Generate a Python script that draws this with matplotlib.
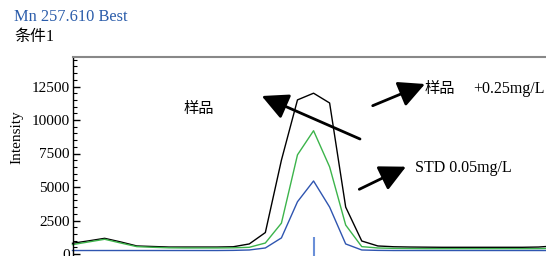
import matplotlib
matplotlib.use("Agg")
import matplotlib.pyplot as plt
import numpy as np

# ---- data ----
idx = list(range(31))
sample_plus = [800, 980, 1170, 900, 600, 560, 520, 520, 520, 520, 540, 750, 1600, 7000, 11500, 12000, 11270,
               3500, 970, 600, 540, 520, 510, 500, 500, 500, 500, 500, 500, 520, 600]
sample = [700, 900, 1100, 820, 550, 500, 460, 450, 450, 450, 460, 500, 820, 2300, 7400, 9200, 6500,
          2160, 550, 450, 420, 410, 400, 400, 400, 400, 400, 400, 400, 400, 420]
std = [260, 260, 260, 260, 260, 260, 260, 260, 260, 260, 270, 300, 450, 1200, 3900, 5450, 3500,
       750, 300, 270, 260, 260, 260, 260, 260, 260, 260, 260, 260, 260, 260]
peak_pos = 15
peak_marker = [-600, 1250]
yticks = [0, 2500, 5000, 7500, 10000, 12500]

title = "Mn 257.610 Best"
subtitle = "条件1"
ylabel = "Intensity"

W, H = 546, 256
fig = plt.figure(figsize=(W / 100, H / 100), dpi=100)

# axes geometry in pixels
left_px, top_px = 72.5, 57.0
zero_px = 254.0
px_per_unit = 33.5 / 2500.0
step_px = 16.07
ymin = -600
ymax = (zero_px - top_px) / px_per_unit
bottom_px = zero_px + (0 - ymin) * px_per_unit
xmax = 31
right_px = left_px + xmax * step_px

ax = fig.add_axes([left_px / W, 1 - bottom_px / H, (right_px - left_px) / W, (bottom_px - top_px) / H])
ax.set_xlim(0, xmax)
ax.set_ylim(ymin, ymax)

ax.plot(idx, sample_plus, color="black", lw=1.0, clip_on=False)
ax.plot(idx, sample, color="#3cb44b", lw=1.0, clip_on=False)
ax.plot(idx, std, color="#2f55b0", lw=1.0, clip_on=False)
ax.vlines(peak_pos, peak_marker[0], peak_marker[1], color="#6a8fd8", lw=1.5)

serif = ["Liberation Serif", "Noto Sans CJK SC"]
cjk = ["Noto Sans CJK SC", "Liberation Serif"]

ax.set_yticks(yticks)
ax.set_yticks(np.arange(0, 15000, 500), minor=True)
ax.set_yticklabels([str(v) for v in yticks], fontfamily="Liberation Serif", fontsize=11)
ax.tick_params(axis="y", which="major", direction="in", length=5, width=1, pad=2)
ax.tick_params(axis="y", which="minor", direction="in", length=3, width=0.8)
ax.set_xticks([])
ax.spines["bottom"].set_visible(False)
ax.spines["right"].set_visible(False)
ax.spines["top"].set_color("#888888")
ax.spines["top"].set_linewidth(1.5)
ax.spines["left"].set_color("black")
ax.spines["left"].set_linewidth(1.0)

fig.text(14 / W, 1 - 17 / H, title, color="#2a5caa", fontfamily="Liberation Serif", fontsize=11.8,
         va="center", ha="left")
fig.text(14 / W, 1 - 37 / H, subtitle, color="black", fontfamily=serif, fontsize=11.5,
         va="center", ha="left")
fig.text(17 / W, 1 - 137 / H, ylabel, rotation=90, fontfamily="Liberation Serif", fontsize=11,
         va="center", ha="center")


def dx(px):
    return (px - left_px) / step_px


def dy(py):
    return (zero_px - py) / px_per_unit


arrow = dict(arrowstyle="-|>,head_length=0.8,head_width=0.4", mutation_scale=20,
             color="black", lw=2.0, shrinkA=0, shrinkB=0)
ax.annotate("", xy=(dx(261.7), dy(96)), xytext=(dx(360), dy(139)), arrowprops=arrow)
ax.annotate("", xy=(dx(425), dy(84)), xytext=(dx(372.7), dy(105.7)), arrowprops=arrow)
ax.annotate("", xy=(dx(406), dy(166.7)), xytext=(dx(359.3), dy(189.3)), arrowprops=arrow)

ax.text(dx(184), dy(108), "样品", fontfamily=cjk, fontsize=11, va="center", ha="left")
ax.text(dx(425), dy(89), "样品", fontfamily=cjk, fontsize=11, va="center", ha="left")
ax.text(dx(473), dy(89), "+0.25mg/L", fontfamily="Liberation Serif", fontsize=11.5, va="center", ha="left")
ax.text(dx(415), dy(168), "STD 0.05mg/L", fontfamily="Liberation Serif", fontsize=11.5, va="center", ha="left")

fig.savefig("out.png", dpi=100)
